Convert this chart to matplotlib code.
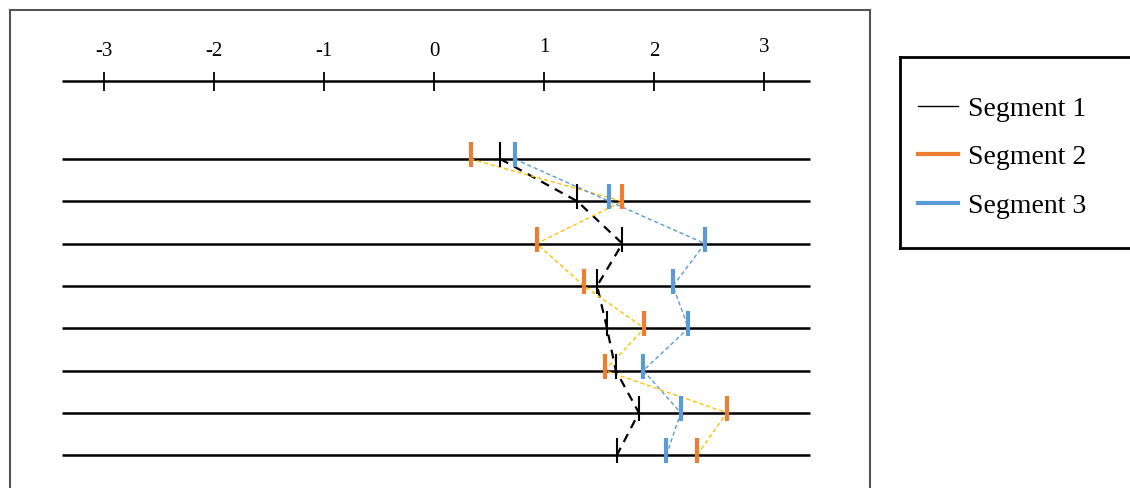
"""三组分段数据在一条数轴下逐行对比。"""

import matplotlib
matplotlib.use("Agg")
from matplotlib import pyplot as plt
from matplotlib.lines import Line2D

plt.rcParams["font.family"] = ["Liberation Serif", "DejaVu Serif"]

# 数轴刻度
tick_values = [-3, -2, -1, 0, 1, 2, 3]
tick_labels = ["-3", "-2", "-1", "0", "1", "2", "3"]

# 每一行（从上到下）三组数据的位置
rows = [1, 2, 3, 4, 5, 6, 7, 8]
segment1 = [0.60, 1.30, 1.71, 1.48, 1.57, 1.65, 1.86, 1.66]
segment2 = [0.33, 1.71, 0.93, 1.36, 1.91, 1.55, 2.66, 2.39]
segment3 = [0.73, 1.59, 2.46, 2.17, 2.31, 1.90, 2.24, 2.11]
series_names = ["Segment 1", "Segment 2", "Segment 3"]

black = "#000000"
orange = "#ED7D31"
blue = "#5B9BD5"
gold = "#FFC000"

fig = plt.figure(figsize=(11.3, 4.88), dpi=100)

# 主图区域：外框从 (10,10) 到 (870, 底部以外)
W, H = 1130, 488
ax = fig.add_axes([10 / W, 0, 860 / W, 478 / H])
px_per_unit = 110.0
zero_px = 434.3
ax.set_xlim((10 - zero_px) / px_per_unit, (870 - zero_px) / px_per_unit)
row_px = 42.3
first_row_px = 159
ax.set_ylim(1 + (488 - first_row_px) / row_px, 1 + (10 - first_row_px) / row_px)
ax.set_xticks([])
ax.set_yticks([])
for side in ["left", "top", "right"]:
    ax.spines[side].set_color("#555555")
    ax.spines[side].set_linewidth(1.5)
ax.spines["bottom"].set_visible(False)

x_left = (62 - zero_px) / px_per_unit
x_right = (810 - zero_px) / px_per_unit

# 顶部数轴
axis_y = 1 + (81 - first_row_px) / row_px
ax.hlines(axis_y, x_left, x_right, color=black, lw=1.8)
ax.vlines(tick_values, axis_y - 9 / row_px, axis_y + 10 / row_px, color=black, lw=1.3)
for v, lab in zip(tick_values, tick_labels):
    dy = -4 if lab in ("1", "3") else 0
    ax.text(v, axis_y + (-30 + dy) / row_px, lab, ha="center", va="center",
            fontsize=15)

# 每行的水平基线
ax.hlines(rows, x_left, x_right, color=black, lw=1.8)

# 虚线连接各行的点
ax.plot(segment1, rows, color=black, lw=1.6, ls=(0, (4, 3)), zorder=3)
ax.plot(segment2, rows, color=gold, lw=1.0, ls=(0, (3, 2)), zorder=3)
ax.plot(segment3, rows, color=blue, lw=1.0, ls=(0, (3, 2)), zorder=3)

# 竖线标记
up = 17 / row_px
down = 8 / row_px
ax.vlines(segment1, [r - up for r in rows], [r + down for r in rows],
          color=black, lw=1.5, zorder=4)
ax.vlines(segment2, [r - up for r in rows], [r + down for r in rows],
          color=orange, lw=3.0, zorder=4)
ax.vlines(segment3, [r - up for r in rows], [r + down for r in rows],
          color=blue, lw=3.0, zorder=4)

# 图例框
lax = fig.add_axes([900 / W, (488 - 248) / H, 240 / W, 191 / H])
lax.set_xticks([])
lax.set_yticks([])
for s in lax.spines.values():
    s.set_linewidth(2)
    s.set_color(black)
handles = [
    Line2D([], [], color=black, lw=1.0),
    Line2D([], [], color=orange, lw=3.0),
    Line2D([], [], color=blue, lw=3.0),
]
lax.legend(handles, series_names, loc="center left", frameon=False,
           fontsize=20, handlelength=1.45, labelspacing=0.83,
           bbox_to_anchor=(18 / 240, 0.474), borderaxespad=0, borderpad=0,
           handletextpad=0.36)

fig.savefig("out.png", dpi=100)
